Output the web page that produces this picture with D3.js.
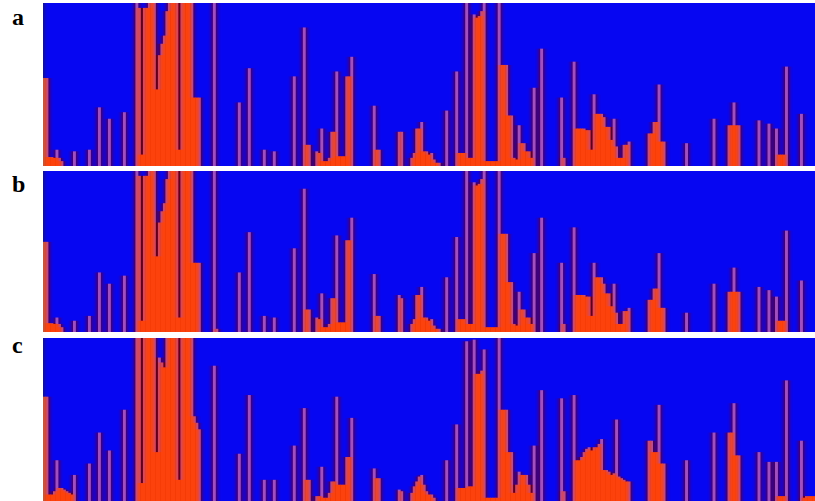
<!DOCTYPE html>
<html>
<head>
<meta charset="utf-8">
<script src="https://cdn.jsdelivr.net/npm/d3@7"></script>
<style>
  html, body { margin: 0; padding: 0; background: #ffffff; }
  svg { display: block; }
</style>
</head>
<body>
<svg id="chart" width="815" height="501"></svg>
<script>
// Panel labels
const panelLabels = ["a", "b", "c"];

// Proportion of membership in the orange cluster for each individual (same order in every panel)
const clusterA = [
  0.54, 0.54, 0.055, 0.055, 0.05, 0.10, 0.05, 0.03, 0, 0,
  0, 0, 0.09, 0, 0, 0, 0, 0, 0.10, 0,
  0, 0, 0.36, 0, 0, 0, 0.29, 0, 0, 0,
  0, 0, 0.33, 0, 0, 0, 0, 1.0, 0.97, 0.07,
  0.97, 0.97, 1, 1, 1, 0.47, 0.68, 0.75, 0.80, 0.95,
  1, 1, 1, 1, 0.10, 1, 1, 1, 1, 1,
  0.42, 0.42, 0.42, 0, 0, 0, 0, 0, 1.0, 0,
  0, 0, 0, 0, 0, 0, 0, 0, 0.39, 0,
  0, 0, 0.60, 0, 0, 0, 0, 0, 0.10, 0,
  0, 0, 0.09, 0, 0, 0, 0, 0, 0, 0,
  0.55, 0, 0, 0, 0.85, 0.13, 0.13, 0, 0, 0.09,
  0.08, 0.23, 0.03, 0.03, 0.05, 0.21, 0.21, 0.58, 0.06, 0.06,
  0.06, 0.55, 0.55, 0.67, 0, 0, 0, 0, 0, 0,
  0, 0, 0.37, 0.10, 0.10, 0, 0, 0, 0, 0,
  0, 0, 0.21, 0.21, 0, 0, 0, 0.05, 0.08, 0.23,
  0.23, 0.27, 0.09, 0.09, 0.07, 0.08, 0.04, 0.02, 0.02, 0,
  0, 0.34, 0, 0, 0, 0.58, 0.08, 0.08, 0.08, 1.0,
  0.05, 0.05, 0.93, 0.91, 0.92, 0.95, 1.0, 0.03, 0.03, 0.03,
  0.03, 0.03, 1.0, 0.62, 0.62, 0.62, 0.31, 0.31, 0.05, 0.04,
  0.25, 0.14, 0.14, 0.09, 0.09, 0.05, 0.48, 0, 0, 0.72,
  0, 0, 0, 0, 0, 0, 0, 0.42, 0.05, 0,
  0, 0, 0.64, 0.23, 0.23, 0.23, 0.23, 0.22, 0.22, 0.10,
  0.44, 0.32, 0.32, 0.32, 0.30, 0.24, 0.24, 0.16, 0.29, 0.12,
  0.05, 0.05, 0.13, 0.13, 0.15, 0, 0, 0, 0, 0,
  0, 0, 0.20, 0.20, 0.27, 0.27, 0.50, 0.15, 0.15, 0,
  0, 0, 0, 0, 0, 0, 0, 0.14, 0, 0,
  0, 0, 0, 0, 0, 0, 0, 0, 0.29, 0,
  0, 0, 0, 0, 0.25, 0.25, 0.39, 0.25, 0.25, 0,
  0, 0, 0, 0, 0, 0, 0.28, 0, 0, 0,
  0.26, 0, 0, 0.23, 0.07, 0.07, 0.07, 0.61, 0, 0,
  0, 0, 0, 0.32, 0, 0, 0, 0, 0
];

const clusterB = [
  0.56, 0.56, 0.055, 0.055, 0.05, 0.09, 0.05, 0.03, 0, 0,
  0, 0, 0.07, 0, 0, 0, 0, 0, 0.10, 0,
  0, 0, 0.37, 0, 0, 0, 0.30, 0, 0, 0,
  0, 0, 0.35, 0, 0, 0, 0, 1.0, 0.97, 0.07,
  0.97, 0.97, 1, 1, 1, 0.47, 0.68, 0.75, 0.80, 0.95,
  1, 1, 1, 1, 0.09, 1, 1, 1, 1, 1,
  0.43, 0.43, 0.43, 0, 0, 0, 0, 0, 1.0, 0.02,
  0, 0, 0, 0, 0, 0, 0, 0, 0.37, 0,
  0, 0, 0.62, 0, 0, 0, 0, 0, 0.10, 0,
  0, 0, 0.09, 0, 0, 0, 0, 0, 0, 0,
  0.52, 0, 0, 0, 0.89, 0.14, 0.14, 0, 0, 0.09,
  0.08, 0.24, 0.03, 0.03, 0.05, 0.21, 0.21, 0.60, 0.06, 0.06,
  0.06, 0.57, 0.57, 0.71, 0, 0, 0, 0, 0, 0,
  0, 0, 0.36, 0.10, 0.10, 0, 0, 0, 0, 0,
  0, 0, 0.23, 0.21, 0, 0, 0, 0.05, 0.08, 0.23,
  0.23, 0.28, 0.09, 0.09, 0.07, 0.08, 0.04, 0.02, 0.02, 0,
  0, 0.34, 0, 0, 0, 0.59, 0.08, 0.08, 0.08, 1.0,
  0.05, 0.05, 0.93, 0.91, 0.92, 0.95, 1.0, 0.03, 0.03, 0.03,
  0.03, 0.03, 1.0, 0.61, 0.61, 0.61, 0.31, 0.31, 0.05, 0.04,
  0.25, 0.14, 0.14, 0.09, 0.09, 0.05, 0.49, 0, 0, 0.71,
  0, 0, 0, 0, 0, 0, 0, 0.43, 0.05, 0,
  0, 0, 0.65, 0.23, 0.23, 0.23, 0.23, 0.22, 0.22, 0.10,
  0.43, 0.34, 0.34, 0.34, 0.30, 0.24, 0.24, 0.16, 0.30, 0.12,
  0.05, 0.05, 0.13, 0.13, 0.15, 0, 0, 0, 0, 0,
  0, 0, 0.20, 0.20, 0.27, 0.27, 0.49, 0.15, 0.15, 0,
  0, 0, 0, 0, 0, 0, 0, 0.12, 0, 0,
  0, 0, 0, 0, 0, 0, 0, 0, 0.30, 0,
  0, 0, 0, 0, 0.25, 0.25, 0.40, 0.25, 0.25, 0,
  0, 0, 0, 0, 0, 0, 0.28, 0, 0, 0,
  0.26, 0, 0, 0.22, 0.07, 0.07, 0.07, 0.63, 0, 0,
  0, 0, 0, 0.32, 0, 0, 0, 0, 0
];

const clusterC = [
  0.64, 0.64, 0.04, 0.04, 0.06, 0.25, 0.08, 0.08, 0.07, 0.06,
  0.05, 0.04, 0.16, 0, 0, 0, 0, 0, 0.23, 0,
  0, 0, 0.42, 0, 0, 0, 0.31, 0, 0, 0,
  0, 0, 0.56, 0, 0, 0, 0, 1.0, 1.0, 0.11,
  1, 1, 1, 1, 1, 0.30, 0.88, 0.85, 0.82, 1.0,
  1, 1, 1, 1, 0.13, 1, 1, 1, 1, 1,
  0.52, 0.48, 0.44, 0, 0, 0, 0, 0, 0.83, 0,
  0, 0, 0, 0, 0, 0, 0, 0, 0.29, 0,
  0, 0, 0.65, 0, 0, 0, 0, 0, 0.13, 0,
  0, 0, 0.13, 0, 0, 0, 0, 0, 0, 0,
  0.34, 0, 0, 0, 0.57, 0.13, 0.13, 0, 0, 0.03,
  0.03, 0.21, 0.02, 0.02, 0.05, 0.12, 0.12, 0.64, 0.10, 0.10,
  0.10, 0.27, 0.27, 0.51, 0, 0, 0, 0, 0, 0,
  0, 0, 0.20, 0.14, 0.14, 0, 0, 0, 0, 0,
  0, 0, 0.07, 0.06, 0, 0, 0, 0.05, 0.09, 0.12,
  0.15, 0.16, 0.10, 0.06, 0.04, 0.04, 0.02, 0, 0, 0,
  0, 0.25, 0, 0, 0, 0.47, 0.08, 0.08, 0.08, 0.98,
  0.09, 0.09, 0.99, 0.78, 0.78, 0.80, 0.93, 0.02, 0.02, 0.02,
  0.02, 0.02, 1.0, 0.56, 0.56, 0.56, 0.30, 0.30, 0.05, 0.10,
  0.18, 0.16, 0.16, 0.16, 0.10, 0.05, 0.34, 0, 0, 0.68,
  0, 0, 0, 0, 0, 0, 0, 0.63, 0.06, 0,
  0, 0, 0.65, 0.25, 0.25, 0.27, 0.30, 0.32, 0.33, 0.31,
  0.33, 0.33, 0.35, 0.38, 0.19, 0.19, 0.18, 0.16, 0.17, 0.50,
  0.15, 0.14, 0.13, 0.12, 0.12, 0, 0, 0, 0, 0,
  0, 0, 0.37, 0.37, 0.30, 0.30, 0.59, 0.23, 0.23, 0,
  0, 0, 0, 0, 0, 0, 0, 0.25, 0, 0,
  0, 0, 0, 0, 0, 0, 0, 0, 0.42, 0,
  0, 0, 0, 0, 0.42, 0.42, 0.60, 0.28, 0.28, 0,
  0, 0, 0, 0, 0, 0, 0.30, 0, 0, 0,
  0.24, 0, 0, 0.24, 0.03, 0.03, 0.03, 0.74, 0, 0,
  0, 0, 0, 0.37, 0.02, 0.03, 0.03, 0.03, 0.03
];

const panelValues = [clusterA, clusterB, clusterC];

// Layout
const plotLeft = 43, plotRight = 815;
const panelTops = [3, 171, 338];
const panelBottoms = [166, 332, 501];
const labelBaselines = [25, 192, 353];
const blue = "#0606f2";
const orange = "#ff4208";

const svg = d3.select("#chart");

// Colour bleed between neighbouring narrow columns: hue is spread sideways
// while each column keeps its own brightness.
const defs = svg.append("defs");
const f = defs.append("filter")
  .attr("id", "bleed")
  .attr("filterUnits", "userSpaceOnUse")
  .attr("x", 0).attr("y", 0).attr("width", 815).attr("height", 501)
  .attr("color-interpolation-filters", "sRGB");
f.append("feGaussianBlur")
  .attr("in", "SourceGraphic")
  .attr("stdDeviation", "2.4 0.3")
  .attr("result", "spread");
f.append("feBlend")
  .attr("in", "SourceGraphic")
  .attr("in2", "spread")
  .attr("mode", "luminosity");

const x = d3.scaleBand()
  .domain(d3.range(clusterA.length))
  .range([plotLeft, plotRight])
  .paddingInner(0)
  .paddingOuter(0);

const plots = svg.append("g").attr("filter", "url(#bleed)");

// white sheet behind the panels so the filter works on opaque pixels
plots.append("rect")
  .attr("x", 0).attr("y", 0).attr("width", 815).attr("height", 501)
  .attr("fill", "#ffffff");

panelValues.forEach((values, p) => {
  const y = d3.scaleLinear()
    .domain([0, 1])
    .range([panelBottoms[p], panelTops[p]]);

  const g = plots.append("g").attr("class", "panel panel-" + panelLabels[p]);

  // blue cluster: background of the panel
  g.append("rect")
    .attr("x", plotLeft)
    .attr("y", y(1))
    .attr("width", plotRight - plotLeft)
    .attr("height", y(0) - y(1))
    .attr("fill", blue);

  // orange cluster stacked from the bottom of each individual's column
  g.selectAll("rect.ind")
    .data(values)
    .join("rect")
    .attr("class", "ind")
    .attr("x", (d, i) => x(i))
    .attr("width", x.bandwidth() + 0.4)
    .attr("y", d => y(d))
    .attr("height", d => y(0) - y(d))
    .attr("fill", orange);
});

panelLabels.forEach((label, p) => {
  svg.append("text")
    .attr("x", 12)
    .attr("y", labelBaselines[p])
    .attr("font-family", "'Liberation Serif', 'Times New Roman', serif")
    .attr("font-weight", "bold")
    .attr("font-size", 24)
    .attr("fill", "#000")
    .text(label);
});
</script>
</body>
</html>
